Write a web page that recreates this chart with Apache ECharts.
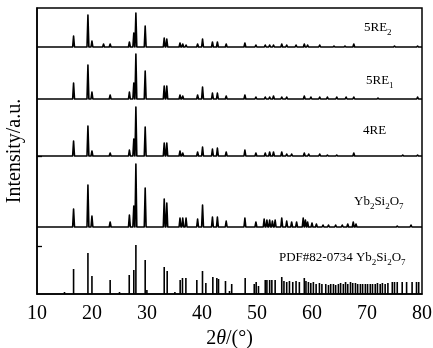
<!DOCTYPE html>
<html><head><meta charset="utf-8">
<script src="https://cdn.jsdelivr.net/npm/echarts@6/dist/echarts.min.js"></script>
<style>html,body{margin:0;padding:0;background:#fff}#c{width:433px;height:348px}</style>
</head><body><div id="c"></div>
<script>
// ---- data (2θ in degrees, intensity in arbitrary units) ----
const xTicks = [10, 20, 30, 40, 50, 60, 70, 80];
const patternNames = ['5RE2', '5RE1', '4RE', 'Yb2Si2O7', 'PDF#82-0734 Yb2Si2O7'];
const offsets = [247, 195, 138, 67, 0];   // vertical stacking offsets
const peaks5RE2 = [[16.65,11],[19.26,32],[19.99,6],[22.1,3],[23.3,3],[26.8,5],[27.6,14],[27.98,34],[29.67,21],[33.13,9],[33.6,8],[36.0,4],[36.5,3],[37.1,2],[39.2,3],[40.1,8],[41.9,5],[42.8,5],[44.4,3],[47.8,4],[49.8,2],[51.5,2],[52.3,2],[53.0,2],[54.5,3],[55.4,2],[57.1,2],[58.6,3],[59.2,2],[61.4,2],[64.0,1],[66.0,1],[67.6,3],[75.0,1],[79.2,1]];
const peaks5RE1 = [[16.65,16],[19.26,34],[19.99,7],[23.3,4],[26.8,7],[27.6,16],[27.98,45],[29.67,28],[33.13,13],[33.6,13],[36.0,4],[36.5,3],[39.2,4],[40.1,12],[41.9,6],[42.8,6],[44.4,3],[47.8,4],[49.8,2],[51.5,2],[52.3,2],[53.0,3],[54.5,2],[55.4,2],[58.6,3],[59.8,2],[61.4,2],[62.8,2],[64.5,2],[66.2,2],[67.6,2],[72.0,1],[79.2,2]];
const peaks4RE = [[16.65,15],[19.26,30],[19.99,5],[23.3,3],[26.8,6],[27.6,17],[27.98,49],[29.67,29],[33.13,13],[33.6,13],[36.0,5],[36.5,3],[39.2,4],[40.1,9],[41.9,7],[42.8,8],[44.4,4],[47.8,6],[49.8,3],[51.5,3],[52.3,4],[53.0,4],[54.5,4],[55.4,2],[56.3,2],[58.6,3],[59.4,2],[61.4,2],[62.8,1],[64.5,1],[67.6,3],[76.5,1],[79.2,1]];
const peaksYb2Si2O7 = [[16.65,18],[19.26,42],[19.99,11],[23.3,5],[26.8,12],[27.6,21],[27.98,63],[29.67,39],[33.13,28],[33.6,24],[36.0,9],[36.5,9],[37.1,9],[39.2,8],[40.1,22],[41.9,10],[42.8,10],[44.4,6],[47.8,9],[49.8,5],[51.3,8],[51.8,7],[52.3,7],[52.8,6],[53.3,7],[54.5,9],[55.4,6],[56.3,5],[57.2,5],[58.4,9],[58.8,7],[59.2,5],[60.0,4],[60.8,3],[62.0,2],[63.0,2],[64.3,2],[65.5,2],[66.5,3],[67.5,5],[68.0,3],[75.5,1],[78.0,2]];
const pdfSticks = [[15.0,2],[16.65,25],[19.26,41],[19.99,18],[23.3,14],[25.0,2],[26.77,19],[27.6,24],[27.98,49],[29.67,34],[29.98,4],[33.13,27],[33.67,23],[35.07,2],[36.03,14],[36.45,16],[37.07,16],[39.06,14],[40.09,23],[40.7,11],[41.97,17],[42.7,16],[43.0,15],[44.27,13],[45.0,3],[45.4,10],[47.85,16],[49.5,10],[49.85,12],[50.27,8],[51.5,14],[51.8,14],[52.3,14],[52.7,14],[53.3,14],[54.5,17],[54.9,13],[55.4,12],[55.9,13],[56.5,12],[57.1,13],[57.7,12],[58.6,16],[58.9,13],[59.35,12],[59.78,11],[60.25,12],[60.75,10],[61.35,11],[61.8,10],[62.5,10],[63.0,9],[63.4,10],[63.9,10],[64.3,9],[64.8,10],[65.2,11],[65.7,10],[66.1,12],[66.5,10],[67.0,12],[67.4,11],[67.9,11],[68.3,10],[68.8,10],[69.2,10],[69.7,10],[70.1,10],[70.6,10],[71.0,10],[71.5,10],[71.9,11],[72.4,10],[72.8,11],[73.3,10],[73.8,11],[74.6,12],[75.0,12],[75.5,12],[76.4,12],[77.2,12],[78.2,12],[79.0,12],[79.4,12]];
const measured = [peaks5RE2, peaks5RE1, peaks4RE, peaksYb2Si2O7];

// ---- build line profiles from the peak list (each peak drawn as a narrow spike on its baseline) ----
const HALF = 0.17;
function profile(peaks, base) {
  const pts = [[10, base]];
  peaks.forEach(([p, h]) => { pts.push([p - HALF, base], [p, base + h], [p + HALF, base]); });
  pts.push([80, base]);
  return pts;
}

const FONT = "'Liberation Serif','Times New Roman',serif";
const chart = echarts.init(document.getElementById('c'), null, {renderer: 'canvas'});
const series = measured.map((pk, i) => {
  const data = profile(pk, offsets[i]);
  return {
    name: patternNames[i], type: 'custom', data: data, encode: {x: 0, y: 1}, clip: true,
    renderItem: function (params, api) {
      if (params.dataIndex !== 0) return null;
      const pts = data.map(d => api.coord(d));
      return {type: 'polyline', shape: {points: pts},
              style: {stroke: '#000', lineWidth: 1.6, fill: null, lineJoin: 'round'}};
    },
    animation: false, silent: true
  };
});
series.push({
  name: patternNames[4], type: 'bar', data: pdfSticks, barWidth: 1.6,
  itemStyle: {color: '#000'}, animation: false, silent: true
});

const rich = {
  n: {fontFamily: FONT, fontSize: 13, lineHeight: 13, verticalAlign: 'top', color: '#000'},
  s: {fontFamily: FONT, fontSize: 9, lineHeight: 9, padding: [7, 0, 0, 0], verticalAlign: 'top', color: '#000'}
};
function label(text, left, top) {
  return {type: 'text', left: left, top: top, style: {text: text, rich: rich, fill: '#000'}};
}

chart.setOption({
  animation: false,
  grid: {left: 37, right: 11, top: 8, bottom: 54, show: true, borderColor: '#000', borderWidth: 1.5,
         containLabel: false, outerBoundsMode: 'none'},
  xAxis: {
    type: 'value', min: 10, max: 80, interval: 10,
    axisLine: {lineStyle: {color: '#000', width: 1.5}}, axisTick: {show: false},
    splitLine: {show: false},
    axisLabel: {color: '#000', fontFamily: FONT, fontSize: 20, margin: 10,
      customValues: xTicks},
    name: '{a|2}{b|θ}{a|/(°)}', nameLocation: 'middle', nameGap: 35,
    nameTextStyle: {rich: {a: {fontFamily: FONT, fontSize: 20, color: '#000'},
                           b: {fontFamily: FONT, fontSize: 20, fontStyle: 'italic', color: '#000'}}}
  },
  yAxis: {
    type: 'value', min: 0, max: 286,
    axisLine: {lineStyle: {color: '#000', width: 1.5}},
    axisTick: {show: true, inside: true, length: 5, lineStyle: {color: '#000', width: 1.3}, customValues: [48, 138]},
    axisLabel: {show: false}, splitLine: {show: false},
    name: 'Intensity/a.u.', nameLocation: 'middle', nameGap: 12,
    nameTextStyle: {fontFamily: FONT, fontSize: 20, color: '#000'}
  },
  series: series,
  graphic: [
    label('{n|5RE}{s|2}', 364, 21),
    label('{n|5RE}{s|1}', 366, 74),
    label('{n|4RE}', 363, 124),
    label('{n|Yb}{s|2}{n|Si}{s|2}{n|O}{s|7}', 354, 195),
    label('{n|PDF#82-0734 Yb}{s|2}{n|Si}{s|2}{n|O}{s|7}', 279, 251)
  ]
});
</script></body></html>
